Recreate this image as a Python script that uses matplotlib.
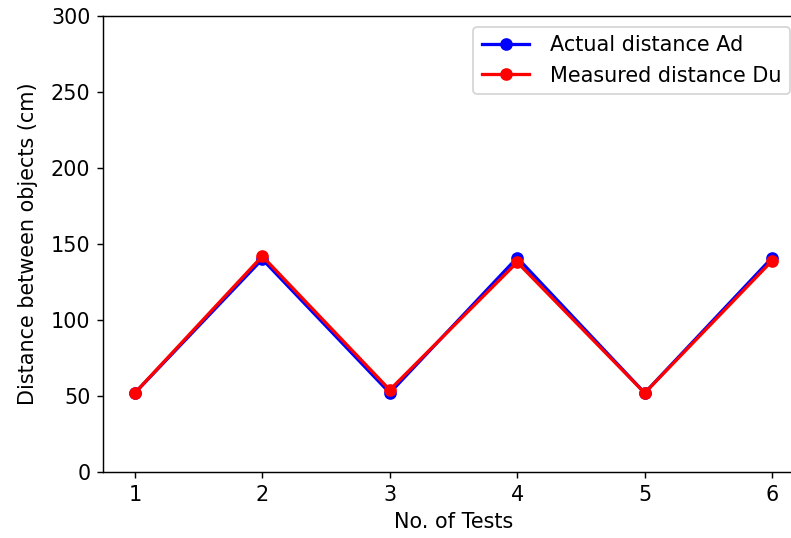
import matplotlib
matplotlib.use("Agg")
import matplotlib.pyplot as plt

tests = [1, 2, 3, 4, 5, 6]
actual_ad = [52, 140, 52, 141, 52, 141]
measured_du = [52, 142, 54, 138, 52, 139]

DPI = 130
W, H = 791, 538
plt.rcParams["font.size"] = 11.5

fig = plt.figure(figsize=(W / DPI, H / DPI), dpi=DPI)
# axes run past the right edge, as in the cropped original
ax = fig.add_axes([103 / W, (H - 472) / H, 701 / W, 456 / H])

ax.plot(tests, actual_ad, color="blue", marker="o", linewidth=1.8, label="Actual distance Ad")
ax.plot(tests, measured_du, color="red", marker="o", linewidth=1.8, label="Measured distance Du")

ax.set_xlim(0.75, 6.25)
ax.set_ylim(0, 300)
ax.set_xticks(tests)
ax.set_xlabel("No. of Tests")
ax.set_ylabel("Distance between objects (cm)", labelpad=7)

ax.legend(loc="upper right", bbox_to_anchor=(790 / W, 1 - 27 / H),
          bbox_transform=fig.transFigure, borderaxespad=0,
          handlelength=2.3, handletextpad=1.0)

fig.savefig("out.png", dpi=DPI)
